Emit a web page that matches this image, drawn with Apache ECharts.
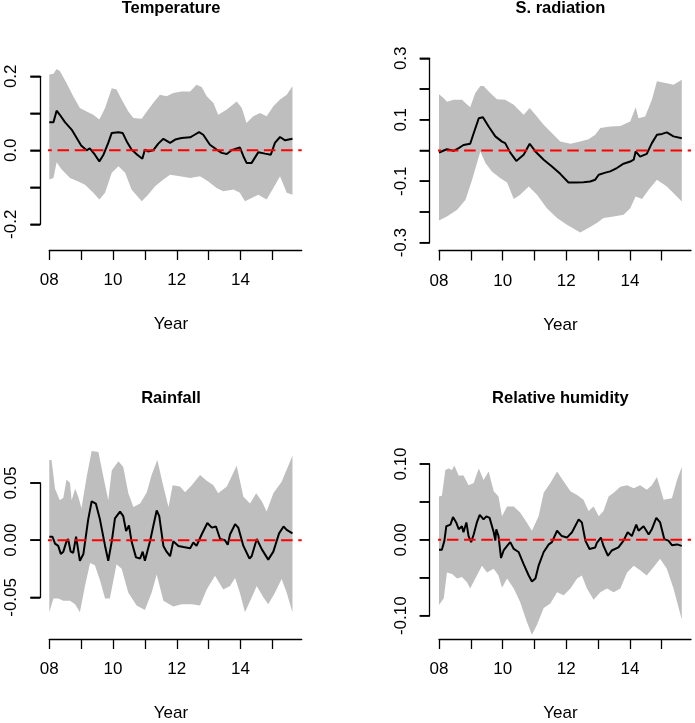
<!DOCTYPE html>
<html>
<head>
<meta charset="utf-8">
<script src="https://cdn.jsdelivr.net/npm/echarts@6/dist/echarts.min.js"></script>
<style>
html,body{margin:0;padding:0;background:#fff;}
#chart{width:695px;height:723px;}
</style>
</head>
<body>
<div id="chart"></div>
<script>
// ---------------- DATA ----------------
const titles = ['Temperature', 'S. radiation', 'Rainfall', 'Relative humidity'];
const xAxisName = 'Year';
const yearTicks = [2008, 2009, 2010, 2011, 2012, 2013, 2014, 2015];
const yearTickLabels = ['08', '10', '12', '14'];

const tempYTicks = [-0.2, -0.1, 0, 0.1, 0.2];
const tempYLabels = ['0.2', '0.0', '-0.2'];
const radYTicks = [-0.3, -0.2, -0.1, 0, 0.1, 0.2, 0.3];
const radYLabels = ['0.3', '0.1', '-0.1', '-0.3'];
const rainYTicks = [-0.05, 0, 0.05];
const rainYLabels = ['0.05', '0.00', '-0.05'];
const humYTicks = [-0.1, -0.05, 0, 0.05, 0.1];
const humYLabels = ['0.10', '0.00', '-0.10'];

// Temperature
const tempMean = [[2008.0,0.076],[2008.13,0.076],[2008.23,0.107],[2008.33,0.096],[2008.49,0.076],[2008.7,0.056],[2008.86,0.033],[2009.0,0.013],[2009.17,0.0],[2009.27,0.005],[2009.43,-0.012],[2009.57,-0.03],[2009.7,-0.012],[2009.85,0.02],[2009.96,0.047],[2010.17,0.049],[2010.3,0.047],[2010.43,0.024],[2010.58,0.002],[2010.76,-0.012],[2010.92,-0.023],[2011.0,0.002],[2011.1,-0.003],[2011.26,0.0],[2011.42,0.018],[2011.58,0.031],[2011.79,0.02],[2011.95,0.029],[2012.15,0.033],[2012.42,0.035],[2012.52,0.04],[2012.7,0.049],[2012.83,0.042],[2013.04,0.015],[2013.25,0.002],[2013.41,-0.007],[2013.57,-0.01],[2013.72,0.0],[2013.98,0.008],[2014.09,-0.016],[2014.19,-0.034],[2014.35,-0.034],[2014.56,-0.005],[2014.77,-0.009],[2014.95,-0.012],[2015.08,0.02],[2015.24,0.036],[2015.4,0.027],[2015.63,0.031]];
const tempUpper = [[2008.0,0.205],[2008.13,0.207],[2008.23,0.22],[2008.33,0.214],[2008.54,0.182],[2008.75,0.146],[2008.96,0.114],[2009.17,0.105],[2009.38,0.096],[2009.57,0.083],[2009.75,0.114],[2009.96,0.168],[2010.11,0.164],[2010.27,0.137],[2010.48,0.105],[2010.64,0.087],[2010.9,0.085],[2011.06,0.105],[2011.26,0.128],[2011.47,0.15],[2011.68,0.146],[2011.89,0.155],[2012.15,0.159],[2012.42,0.159],[2012.62,0.177],[2012.78,0.171],[2012.94,0.146],[2013.15,0.128],[2013.3,0.096],[2013.57,0.11],[2013.88,0.132],[2014.04,0.114],[2014.19,0.074],[2014.4,0.092],[2014.61,0.101],[2014.82,0.092],[2015.03,0.119],[2015.24,0.137],[2015.45,0.15],[2015.63,0.173]];
const tempLower = [[2008.0,-0.079],[2008.13,-0.075],[2008.23,-0.032],[2008.39,-0.052],[2008.65,-0.075],[2008.91,-0.084],[2009.12,-0.093],[2009.38,-0.115],[2009.57,-0.133],[2009.75,-0.115],[2009.96,-0.061],[2010.17,-0.043],[2010.38,-0.061],[2010.58,-0.106],[2010.9,-0.138],[2011.1,-0.12],[2011.32,-0.097],[2011.58,-0.079],[2011.79,-0.066],[2012.1,-0.07],[2012.42,-0.075],[2012.73,-0.07],[2012.99,-0.084],[2013.25,-0.102],[2013.46,-0.111],[2013.78,-0.106],[2013.98,-0.115],[2014.14,-0.138],[2014.35,-0.129],[2014.56,-0.12],[2014.82,-0.133],[2015.03,-0.102],[2015.24,-0.07],[2015.45,-0.115],[2015.63,-0.12]];

// S. radiation
const radMean = [[2008.0,-0.007],[2008.15,0.0],[2008.25,0.004],[2008.46,-0.001],[2008.62,0.008],[2008.77,0.018],[2008.98,0.022],[2009.09,0.056],[2009.25,0.105],[2009.38,0.108],[2009.56,0.078],[2009.77,0.046],[2009.98,0.029],[2010.08,0.024],[2010.24,-0.007],[2010.43,-0.034],[2010.66,-0.014],[2010.85,0.022],[2011.03,-0.003],[2011.29,-0.03],[2011.55,-0.052],[2011.81,-0.076],[2012.07,-0.104],[2012.28,-0.104],[2012.54,-0.103],[2012.75,-0.101],[2012.91,-0.095],[2013.02,-0.079],[2013.23,-0.072],[2013.38,-0.068],[2013.59,-0.057],[2013.8,-0.043],[2014.01,-0.036],[2014.12,-0.03],[2014.18,-0.003],[2014.32,-0.02],[2014.53,-0.011],[2014.69,0.024],[2014.85,0.051],[2015.01,0.054],[2015.16,0.059],[2015.37,0.046],[2015.63,0.04]];
const radUpper = [[2008.0,0.183],[2008.15,0.17],[2008.25,0.159],[2008.46,0.165],[2008.72,0.165],[2008.98,0.141],[2009.14,0.187],[2009.3,0.21],[2009.4,0.21],[2009.61,0.187],[2009.82,0.167],[2010.08,0.165],[2010.35,0.149],[2010.66,0.116],[2010.85,0.138],[2011.03,0.116],[2011.29,0.084],[2011.6,0.051],[2011.81,0.029],[2012.13,0.022],[2012.44,0.029],[2012.7,0.037],[2012.91,0.051],[2013.07,0.073],[2013.38,0.078],[2013.7,0.08],[2014.01,0.094],[2014.18,0.141],[2014.27,0.105],[2014.48,0.111],[2014.69,0.165],[2014.85,0.225],[2015.16,0.219],[2015.37,0.214],[2015.63,0.23]];
const radLower = [[2008.0,-0.228],[2008.25,-0.215],[2008.57,-0.193],[2008.83,-0.161],[2009.04,-0.095],[2009.3,-0.003],[2009.46,-0.041],[2009.66,-0.068],[2009.93,-0.09],[2010.14,-0.104],[2010.35,-0.158],[2010.55,-0.144],[2010.82,-0.117],[2011.08,-0.144],[2011.39,-0.188],[2011.71,-0.22],[2012.02,-0.242],[2012.44,-0.267],[2012.75,-0.249],[2012.96,-0.236],[2013.17,-0.22],[2013.49,-0.215],[2013.8,-0.209],[2014.01,-0.188],[2014.18,-0.15],[2014.38,-0.158],[2014.59,-0.128],[2014.85,-0.095],[2015.16,-0.117],[2015.42,-0.144],[2015.63,-0.166]];

// Rainfall
const rainMean = [[2008.0,0.003],[2008.1,0.003],[2008.18,-0.003],[2008.28,-0.005],[2008.36,-0.012],[2008.44,-0.01],[2008.54,-0.001],[2008.59,0.001],[2008.67,-0.01],[2008.75,-0.011],[2008.84,0.003],[2008.88,-0.004],[2008.96,-0.018],[2009.07,-0.012],[2009.22,0.018],[2009.33,0.034],[2009.46,0.032],[2009.59,0.018],[2009.75,-0.005],[2009.85,-0.018],[2009.96,-0.001],[2010.06,0.019],[2010.22,0.025],[2010.32,0.021],[2010.41,0.008],[2010.5,0.013],[2010.58,-0.001],[2010.72,-0.015],[2010.85,-0.016],[2010.93,-0.01],[2011.0,-0.018],[2011.16,-0.001],[2011.26,0.012],[2011.37,0.026],[2011.45,0.021],[2011.58,-0.005],[2011.68,-0.01],[2011.79,-0.014],[2011.89,-0.001],[2012.05,-0.005],[2012.21,-0.006],[2012.42,-0.007],[2012.52,-0.002],[2012.62,-0.005],[2012.78,0.005],[2012.96,0.015],[2013.1,0.011],[2013.23,0.012],[2013.36,0.001],[2013.51,0.0],[2013.6,-0.004],[2013.67,0.005],[2013.83,0.014],[2013.93,0.011],[2014.09,-0.005],[2014.28,-0.016],[2014.35,-0.014],[2014.51,0.001],[2014.67,-0.008],[2014.87,-0.017],[2015.03,-0.01],[2015.08,-0.01],[2015.21,0.006],[2015.35,0.012],[2015.45,0.009],[2015.63,0.006]];
const rainUpper = [[2008.0,0.07],[2008.07,0.07],[2008.18,0.045],[2008.33,0.035],[2008.44,0.037],[2008.54,0.053],[2008.65,0.05],[2008.7,0.035],[2008.81,0.045],[2008.91,0.038],[2009.01,0.028],[2009.17,0.055],[2009.33,0.078],[2009.54,0.077],[2009.7,0.055],[2009.85,0.035],[2009.96,0.061],[2010.17,0.069],[2010.32,0.064],[2010.48,0.041],[2010.64,0.029],[2010.85,0.032],[2011.06,0.042],[2011.21,0.057],[2011.39,0.07],[2011.58,0.047],[2011.74,0.029],[2011.87,0.048],[2012.1,0.047],[2012.26,0.042],[2012.47,0.048],[2012.73,0.057],[2012.94,0.052],[2013.15,0.048],[2013.3,0.041],[2013.57,0.047],[2013.88,0.065],[2014.09,0.038],[2014.3,0.032],[2014.49,0.041],[2014.67,0.034],[2014.82,0.025],[2015.03,0.041],[2015.29,0.051],[2015.5,0.065],[2015.63,0.074]];
const rainLower = [[2008.0,-0.063],[2008.13,-0.051],[2008.28,-0.051],[2008.44,-0.053],[2008.65,-0.053],[2008.81,-0.056],[2008.96,-0.063],[2009.12,-0.04],[2009.28,-0.02],[2009.43,-0.022],[2009.59,-0.035],[2009.75,-0.051],[2009.9,-0.051],[2010.11,-0.021],[2010.27,-0.025],[2010.48,-0.046],[2010.74,-0.057],[2011.0,-0.061],[2011.21,-0.046],[2011.37,-0.03],[2011.58,-0.053],[2011.89,-0.058],[2012.15,-0.056],[2012.47,-0.056],[2012.73,-0.057],[2012.94,-0.043],[2013.2,-0.031],[2013.46,-0.043],[2013.67,-0.04],[2013.83,-0.033],[2013.98,-0.046],[2014.14,-0.063],[2014.35,-0.05],[2014.51,-0.04],[2014.72,-0.05],[2014.87,-0.056],[2015.08,-0.046],[2015.29,-0.034],[2015.45,-0.046],[2015.63,-0.063]];

// Relative humidity
const humMean = [[2008.0,-0.013],[2008.09,-0.013],[2008.17,-0.001],[2008.23,0.018],[2008.36,0.02],[2008.44,0.03],[2008.54,0.023],[2008.62,0.014],[2008.72,0.018],[2008.77,0.01],[2008.86,0.023],[2008.93,0.005],[2009.01,-0.003],[2009.09,0.007],[2009.19,0.023],[2009.28,0.033],[2009.4,0.027],[2009.49,0.031],[2009.59,0.029],[2009.72,0.01],[2009.77,-0.001],[2009.8,0.014],[2009.87,0.005],[2009.95,-0.024],[2010.03,-0.014],[2010.14,-0.008],[2010.24,-0.003],[2010.35,-0.012],[2010.5,-0.016],[2010.66,-0.032],[2010.82,-0.047],[2010.92,-0.055],[2011.03,-0.051],[2011.13,-0.034],[2011.29,-0.016],[2011.45,-0.006],[2011.55,-0.003],[2011.71,0.012],[2011.86,0.005],[2012.02,0.003],[2012.18,0.01],[2012.39,0.027],[2012.49,0.023],[2012.6,-0.001],[2012.73,-0.012],[2012.91,-0.01],[2012.96,-0.004],[2013.09,0.003],[2013.17,-0.008],[2013.31,-0.021],[2013.43,-0.014],[2013.64,-0.01],[2013.8,-0.001],[2013.93,0.01],[2014.06,0.005],[2014.2,0.02],[2014.27,0.012],[2014.43,0.018],[2014.59,0.007],[2014.69,0.014],[2014.83,0.029],[2014.95,0.023],[2015.08,0.001],[2015.21,-0.001],[2015.32,-0.007],[2015.48,-0.006],[2015.63,-0.008]];
const humUpper = [[2008.0,0.057],[2008.09,0.058],[2008.2,0.092],[2008.3,0.094],[2008.41,0.092],[2008.48,0.098],[2008.62,0.085],[2008.77,0.085],[2008.93,0.072],[2009.09,0.075],[2009.25,0.094],[2009.4,0.079],[2009.56,0.09],[2009.72,0.064],[2009.87,0.057],[2009.98,0.031],[2010.14,0.044],[2010.35,0.044],[2010.55,0.036],[2010.76,0.023],[2010.92,0.012],[2011.13,0.031],[2011.29,0.062],[2011.5,0.075],[2011.71,0.09],[2011.92,0.077],[2012.13,0.064],[2012.34,0.059],[2012.54,0.053],[2012.7,0.038],[2012.86,0.044],[2013.02,0.031],[2013.17,0.038],[2013.33,0.057],[2013.49,0.062],[2013.7,0.07],[2013.91,0.072],[2014.12,0.068],[2014.32,0.072],[2014.53,0.066],[2014.69,0.072],[2014.85,0.083],[2015.06,0.053],[2015.32,0.055],[2015.48,0.079],[2015.63,0.096]];
const humLower = [[2008.0,-0.086],[2008.15,-0.077],[2008.25,-0.043],[2008.41,-0.045],[2008.57,-0.051],[2008.72,-0.049],[2008.88,-0.056],[2008.98,-0.064],[2009.19,-0.047],[2009.35,-0.034],[2009.51,-0.043],[2009.72,-0.038],[2009.87,-0.047],[2009.98,-0.063],[2010.14,-0.051],[2010.35,-0.064],[2010.55,-0.082],[2010.76,-0.108],[2010.92,-0.125],[2011.08,-0.112],[2011.29,-0.09],[2011.5,-0.084],[2011.71,-0.069],[2011.92,-0.073],[2012.13,-0.064],[2012.34,-0.051],[2012.49,-0.047],[2012.65,-0.064],[2012.86,-0.079],[2013.07,-0.069],[2013.28,-0.064],[2013.49,-0.069],[2013.7,-0.064],[2013.91,-0.043],[2014.12,-0.034],[2014.32,-0.04],[2014.53,-0.047],[2014.74,-0.036],[2014.95,-0.025],[2015.16,-0.038],[2015.37,-0.064],[2015.63,-0.105]];

// ---------------- LAYOUT ----------------
const FONT = '"Liberation Sans", Arial, Helvetica, sans-serif';
const X_MIN = 2008, X_MAX = 2015.92;
const TICK_LEN = 10;
const panels = [
  {mean: tempMean, upper: tempUpper, lower: tempLower, yTicks: tempYTicks, yLabels: tempYLabels,
   grid: {left: 49.3, top: 76.3, width: 252.4, height: 148}, xOff: 25.7, yOff: 9, titleX: 171, titleY: 0},
  {mean: radMean, upper: radUpper, lower: radLower, yTicks: radYTicks, yLabels: radYLabels,
   grid: {left: 439, top: 58.3, width: 252, height: 184.4}, xOff: 7.8, yOff: 9.3, titleX: 560.4, titleY: 0},
  {mean: rainMean, upper: rainUpper, lower: rainLower, yTicks: rainYTicks, yLabels: rainYLabels,
   grid: {left: 49.3, top: 483, width: 252.4, height: 115.7}, xOff: 41.6, yOff: 9, titleX: 171, titleY: 390},
  {mean: humMean, upper: humUpper, lower: humLower, yTicks: humYTicks, yLabels: humYLabels,
   grid: {left: 439, top: 464, width: 252, height: 153.7}, xOff: 23.3, yOff: 9.3, titleX: 560.4, titleY: 390}
];

const xLabelValues = yearTickLabels.map(s => 2000 + Number(s));

function labelFor(labels, v) {
  for (const s of labels) { if (Math.abs(Number(s) - v) < 1e-9) return s; }
  return '';
}

const option = {
  animation: false,
  backgroundColor: '#ffffff',
  textStyle: {fontFamily: FONT},
  title: [], grid: [], xAxis: [], yAxis: [], series: []
};

panels.forEach((p, i) => {
  const yMin = p.yTicks[0], yMax = p.yTicks[p.yTicks.length - 1];
  const yInterval = +(p.yTicks[1] - p.yTicks[0]).toFixed(6);
  option.title.push({
    text: titles[i], left: p.titleX, top: p.titleY, textAlign: 'center', padding: 0,
    textStyle: {fontFamily: FONT, fontSize: 16.5, fontWeight: 'bold', color: '#000'}
  });
  option.grid.push(Object.assign({}, p.grid));
  option.xAxis.push({
    type: 'value', gridIndex: i, min: X_MIN, max: X_MAX, interval: 1, offset: p.xOff,
    axisLine: {show: true, onZero: false, lineStyle: {color: '#000', width: 1.3}},
    axisTick: {show: true, length: TICK_LEN, lineStyle: {color: '#000', width: 1.3}, customValues: yearTicks},
    axisLabel: {show: true, margin: 22, fontSize: 17, color: '#000', fontFamily: FONT,
      customValues: xLabelValues,
      formatter: v => labelFor(yearTickLabels, v - 2000) !== '' ? String(v).slice(2) : ''},
    splitLine: {show: false},
    name: xAxisName, nameLocation: 'middle', nameGap: 66,
    nameTextStyle: {fontSize: 17, color: '#000', fontFamily: FONT, padding: [0, 9, 0, 0]}
  });
  option.yAxis.push({
    type: 'value', gridIndex: i, min: yMin, max: yMax, interval: yInterval, offset: p.yOff,
    axisLine: {show: true, onZero: false, lineStyle: {color: '#000', width: 1.3}},
    axisTick: {show: true, length: TICK_LEN, lineStyle: {color: '#000', width: 1.5}},
    axisLabel: {show: true, rotate: 90, margin: 20, fontSize: 17, color: '#000', fontFamily: FONT,
      customValues: p.yLabels.map(Number),
      formatter: v => labelFor(p.yLabels, v)},
    splitLine: {show: false}
  });
  // confidence band
  option.series.push({
    type: 'custom', xAxisIndex: i, yAxisIndex: i, clip: false, silent: true, z: 1,
    data: [[p.upper[0][0], p.upper[0][1]]],
    encode: {x: 0, y: 1},
    renderItem: (params, api) => {
      const pts = p.upper.map(d => api.coord(d)).concat(p.lower.slice().reverse().map(d => api.coord(d)));
      return {type: 'polygon', shape: {points: pts}, style: {fill: '#BEBEBE', stroke: null}};
    }
  });
  // y-axis tick marks, placed through the axis scale on the offset axis line
  option.series.push({
    type: 'custom', xAxisIndex: i, yAxisIndex: i, clip: false, silent: true, z: 5,
    data: p.yTicks.map(v => [X_MIN, v]),
    encode: {x: 0, y: 1},
    renderItem: (params, api) => {
      const v = p.yTicks[params.dataIndex];
      const pt = api.coord([X_MIN, v]);
      const x0 = pt[0] - p.yOff;
      return {type: 'polyline', shape: {points: [[x0, pt[1]], [x0 - TICK_LEN, pt[1]]]},
              style: {stroke: '#000', lineWidth: 1.5, fill: 'none'}};
    }
  });
  // mean line
  option.series.push({
    type: 'line', xAxisIndex: i, yAxisIndex: i, data: p.mean, showSymbol: false, clip: false, z: 3,
    lineStyle: {color: '#000', width: 2}, silent: true
  });
  // zero reference line spanning the plot region
  const pxPerYear = p.grid.width / (X_MAX - X_MIN);
  option.series.push({
    type: 'line', xAxisIndex: i, yAxisIndex: i, clip: false, showSymbol: false, z: 4, silent: true,
    data: [[X_MIN - p.yOff / pxPerYear, 0], [X_MAX, 0]],
    lineStyle: {color: '#FF0000', width: 2, type: [11.5, 5.7]}
  });
});

const chart = echarts.init(document.getElementById('chart'), null, {renderer: 'canvas'});
chart.setOption(option);
</script>
</body>
</html>
